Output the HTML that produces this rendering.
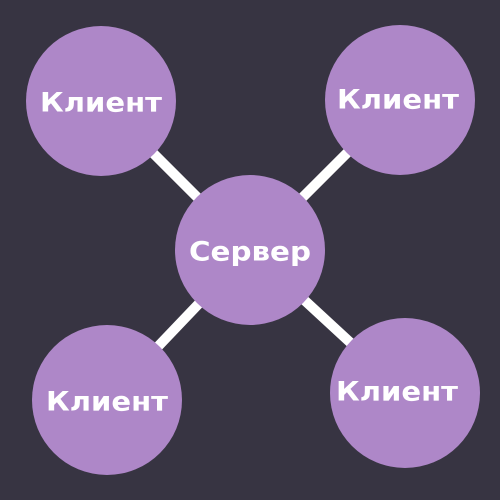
<!DOCTYPE html>
<html><head><style>
html,body{margin:0;padding:0;background:#373442;}
svg{display:block}
text{font-family:"DejaVu Sans",sans-serif;font-weight:bold;fill:#fff;font-size:27px;text-anchor:middle;dominant-baseline:central}
</style></head><body>
<svg width="500" height="500" viewBox="0 0 500 500">
<rect width="500" height="500" fill="#373442"/>
<g stroke="#fff" stroke-width="10">
<line x1="101" y1="101" x2="250" y2="250"/>
<line x1="400" y1="100" x2="250" y2="250"/>
<line x1="107" y1="400" x2="250" y2="250"/>
<line x1="405" y1="393" x2="250" y2="250"/>
</g>
<g fill="#ae87c8">
<circle cx="101" cy="101" r="75"/>
<circle cx="400" cy="100" r="75"/>
<circle cx="250" cy="250" r="75"/>
<circle cx="107" cy="400" r="75"/>
<circle cx="405" cy="393" r="75"/>
</g>
<text x="101" y="103" textLength="122" lengthAdjust="spacingAndGlyphs">Клиент</text>
<text x="398" y="100" textLength="122" lengthAdjust="spacingAndGlyphs">Клиент</text>
<text x="250" y="252" textLength="122" lengthAdjust="spacingAndGlyphs">Сервер</text>
<text x="107" y="402" textLength="122" lengthAdjust="spacingAndGlyphs">Клиент</text>
<text x="397" y="392" textLength="122" lengthAdjust="spacingAndGlyphs">Клиент</text>
</svg>
</body></html>
